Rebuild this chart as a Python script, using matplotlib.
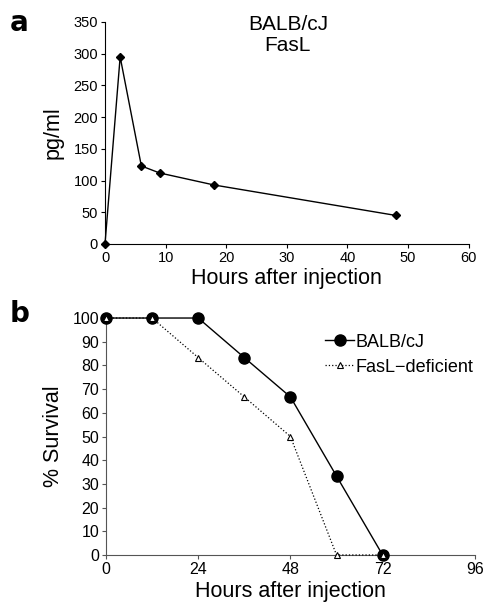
import matplotlib
matplotlib.use("Agg")
import matplotlib.pyplot as plt

plt.rcParams['font.family'] = ['Liberation Sans', 'DejaVu Sans']

# Panel a data
a_hours = [0, 2.5, 6, 9, 18, 48]
a_fasl = [0, 295, 123, 112, 93, 45]
a_xticks = [0, 10, 20, 30, 40, 50, 60]
a_yticks = [0, 50, 100, 150, 200, 250, 300, 350]

# Panel b data
b_hours = [0, 12, 24, 36, 48, 60, 72]
b_balb = [100, 100, 100, 83.3, 66.7, 33.3, 0]
b_fasl_def = [100, 100, 83.3, 66.7, 50, 0, 0]
b_xticks = [0, 24, 48, 72, 96]
b_yticks = list(range(0, 101, 10))

fig = plt.figure(figsize=(4.85, 6.06), dpi=100)

# Panel a
ax1 = fig.add_axes([0.2165, 0.5974, 0.7495, 0.3663])
ax1.plot(a_hours, a_fasl, color='black', lw=1.0, marker='D', ms=4.5,
         clip_on=False, zorder=3)
ax1.set_xlim(0, 60)
ax1.set_ylim(0, 350)
ax1.set_xticks(a_xticks)
ax1.set_yticks(a_yticks)
ax1.set_xlabel('Hours after injection', fontsize=15.5, labelpad=2)
ax1.set_ylabel('pg/ml', fontsize=15.5, labelpad=7)
for s in ['top', 'right']:
    ax1.spines[s].set_visible(False)
ax1.tick_params(labelsize=10.5, length=3, width=0.8, pad=2)
ax1.text(0.503, 1.03, 'BALB/cJ\nFasL', transform=ax1.transAxes, ha='center',
         va='top', fontsize=15, linespacing=1.1)

# Panel b
ax2 = fig.add_axes([0.2186, 0.0842, 0.7604, 0.391])
ax2.plot(b_hours, b_balb, color='black', lw=1.0, marker='o', ms=8,
         clip_on=False, zorder=3, label='BALB/cJ')
ax2.plot(b_hours, b_fasl_def, color='black', lw=0.9, ls=':', marker='^',
         ms=4.5, mfc='white', mec='black', mew=0.8, clip_on=False, zorder=4,
         label='FasL\u2212deficient')
ax2.set_xlim(0, 96)
ax2.set_ylim(0, 100)
ax2.set_xticks(b_xticks)
ax2.set_yticks(b_yticks)
ax2.set_xlabel('Hours after injection', fontsize=15.5, labelpad=3)
ax2.set_ylabel('% Survival', fontsize=15.5, labelpad=6)
for s in ['top', 'right']:
    ax2.spines[s].set_visible(False)
for s in ['left', 'bottom']:
    ax2.spines[s].set_color('#555555')
ax2.tick_params(labelsize=11.5, length=3, width=0.8, pad=2, color='#555555')
ax2.legend(loc='upper left', bbox_to_anchor=(0.575, 0.965), frameon=False,
           fontsize=13, handlelength=1.6, handletextpad=0.1,
           borderaxespad=0, labelspacing=0.45)

fig.text(0.02, 0.985, 'a', fontsize=20, fontweight='bold', va='top',
         family='DejaVu Sans')
fig.text(0.02, 0.505, 'b', fontsize=20, fontweight='bold', va='top',
         family='DejaVu Sans')

fig.savefig('out.png', dpi=100)
